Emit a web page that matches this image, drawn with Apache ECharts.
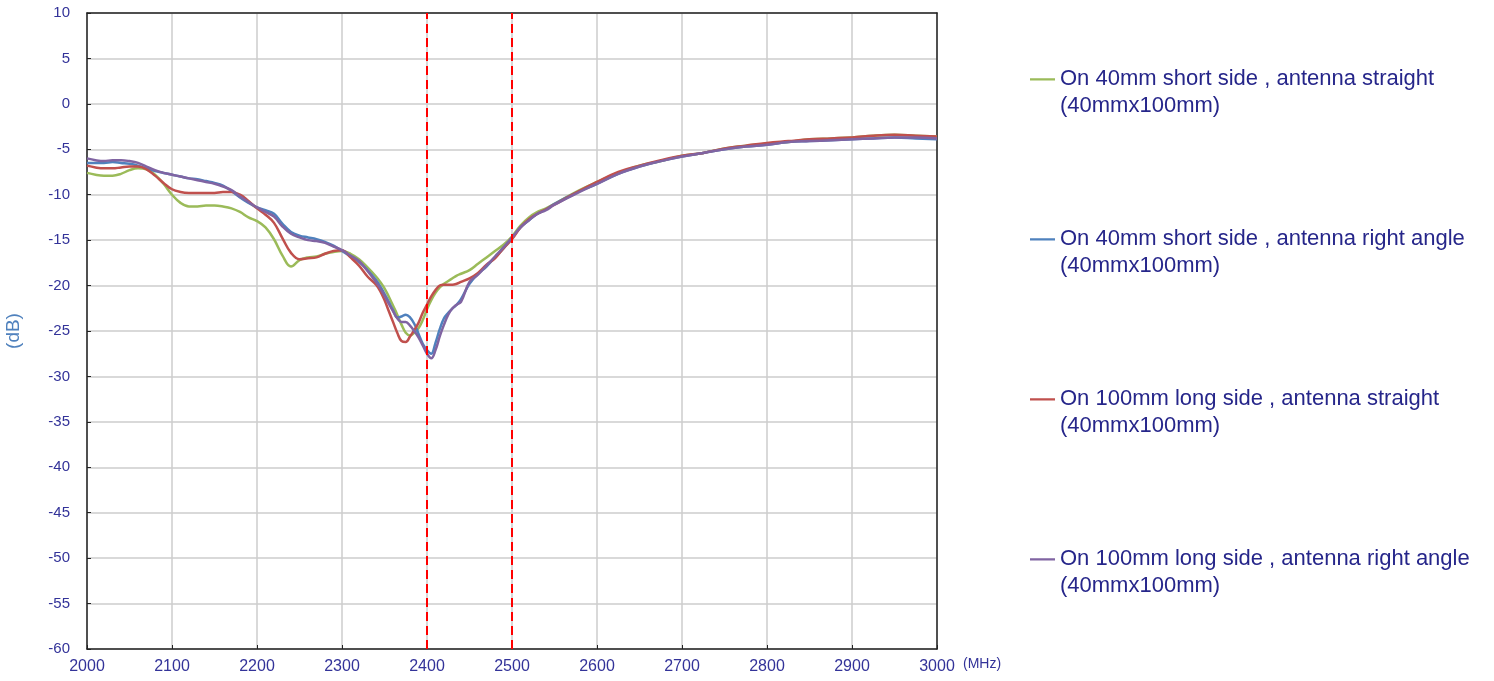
<!DOCTYPE html>
<html>
<head>
<meta charset="utf-8">
<script src="https://cdn.jsdelivr.net/npm/echarts@6/dist/echarts.min.js"></script>
<style>html,body{margin:0;padding:0;background:#fff}#c{width:1494px;height:681px}</style>
</head>
<body>
<div id="c"></div>
<script>
const freq = [2000,2010,2020,2030,2040,2050,2060,2070,2080,2090,2100,2110,2120,2130,2140,2150,2160,2170,2180,2190,2200,2210,2220,2230,2240,2250,2260,2270,2280,2290,2300,2310,2320,2330,2340,
2345,2350,2355,2360,2365,2370,2375,2380,2385,2390,2395,2400,2405,2410,2415,2420,2425,2430,2435,2440,
2450,2460,2470,2480,2490,2500,2510,2520,2530,2540,2550,
2575,2600,2625,2650,2675,2700,2725,2750,2775,2800,2825,2850,2875,2900,2925,2950,2975,3000];

const shortStraight = [-7.6,-7.8,-7.9,-7.9,-7.7,-7.3,-7.1,-7.2,-7.8,-8.8,-10.0,-10.9,-11.3,-11.3,-11.2,-11.2,-11.3,-11.5,-11.9,-12.5,-12.9,-13.6,-14.9,-16.7,-17.9,-17.2,-16.9,-16.8,-16.5,-16.3,-16.2,-16.5,-17.1,-18.0,-19.0,
-19.6,-20.3,-21.2,-22.2,-23.2,-24.3,-25.2,-25.5,-25.2,-24.7,-23.8,-22.6,-21.6,-20.8,-20.2,-19.8,-19.5,-19.2,-18.9,-18.7,
-18.3,-17.6,-16.9,-16.2,-15.5,-14.6,-13.4,-12.5,-11.9,-11.5,-11.0,
-9.7,-8.6,-7.6,-6.8,-6.3,-5.7,-5.4,-4.9,-4.6,-4.4,-4.2,-3.9,-3.8,-3.7,-3.5,-3.4,-3.5,-3.6];

const shortRight = [-6.5,-6.5,-6.5,-6.4,-6.5,-6.6,-6.8,-7.1,-7.4,-7.6,-7.8,-8.0,-8.2,-8.3,-8.5,-8.7,-9.0,-9.6,-10.3,-10.9,-11.4,-11.7,-12.1,-13.2,-14.1,-14.5,-14.7,-14.9,-15.2,-15.6,-16.2,-16.8,-17.4,-18.3,-19.4,
-20.1,-20.9,-21.8,-22.7,-23.5,-23.4,-23.2,-23.5,-24.2,-25.3,-26.4,-27.1,-27.5,-26.3,-24.8,-23.6,-23.0,-22.5,-22.1,-21.5,
-19.8,-18.7,-17.9,-16.9,-15.9,-14.8,-13.6,-12.8,-12.1,-11.6,-11.0,
-9.8,-8.8,-7.7,-6.9,-6.3,-5.8,-5.4,-5.0,-4.7,-4.5,-4.2,-4.1,-4.0,-3.9,-3.8,-3.7,-3.8,-3.9];

const longStraight = [-6.8,-7.0,-7.1,-7.1,-7.0,-6.9,-6.9,-7.2,-7.9,-8.7,-9.4,-9.7,-9.8,-9.8,-9.8,-9.8,-9.7,-9.7,-10.0,-10.7,-11.5,-12.2,-13.1,-14.8,-16.4,-17.1,-17.0,-16.9,-16.5,-16.2,-16.1,-16.9,-17.8,-19.0,-19.9,
-20.6,-21.6,-22.8,-24.0,-25.2,-26.1,-26.2,-25.6,-24.9,-24.1,-23.0,-22.1,-21.2,-20.5,-20.0,-19.9,-19.9,-19.9,-19.8,-19.6,
-19.2,-18.6,-17.7,-17.0,-15.9,-14.9,-13.6,-12.7,-12.1,-11.6,-11.1,
-9.8,-8.6,-7.5,-6.8,-6.2,-5.7,-5.4,-4.9,-4.6,-4.3,-4.1,-3.9,-3.8,-3.7,-3.5,-3.4,-3.5,-3.6];

const longRight = [-6.0,-6.2,-6.3,-6.2,-6.2,-6.3,-6.5,-6.9,-7.3,-7.6,-7.8,-8.0,-8.2,-8.4,-8.6,-8.8,-9.1,-9.5,-10.2,-10.8,-11.4,-11.9,-12.4,-13.5,-14.3,-14.7,-15.0,-15.1,-15.3,-15.7,-16.1,-16.7,-17.3,-18.4,-19.6,
-20.3,-21.1,-22.0,-22.8,-23.6,-24.0,-24.0,-24.4,-25.0,-25.7,-26.6,-27.5,-28.0,-27.1,-25.6,-24.3,-23.2,-22.5,-22.1,-21.8,
-19.6,-18.8,-17.8,-16.8,-15.8,-14.7,-13.6,-12.8,-12.1,-11.7,-11.1,
-9.9,-8.8,-7.7,-6.9,-6.3,-5.8,-5.4,-5.0,-4.7,-4.5,-4.2,-4.1,-4.0,-3.9,-3.8,-3.7,-3.7,-3.8];

const seriesNames = [
  'On 40mm short side , antenna straight\n(40mmx100mm)',
  'On 40mm short side , antenna right angle\n(40mmx100mm)',
  'On 100mm long side , antenna straight\n(40mmx100mm)',
  'On 100mm long side , antenna right angle\n(40mmx100mm)'
];
const seriesValues = [shortStraight, shortRight, longStraight, longRight];
const seriesColors = ['#9bbb59', '#4f81bd', '#c0504d', '#8064a2'];
const markerFreqs = [2400, 2500];

const series = seriesNames.map((name, i) => ({
  name: name,
  type: 'line',
  smooth: 0.4,
  symbol: 'none',
  lineStyle: { width: 2.5, color: seriesColors[i] },
  itemStyle: { color: seriesColors[i] },
  data: freq.map((f, k) => [f, seriesValues[i][k]])
}));
series.push({
  type: 'line',
  data: [],
  silent: true,
  markLine: {
    symbol: 'none',
    silent: true,
    label: { show: false },
    lineStyle: { color: '#ff0000', type: [9, 5], width: 2 },
    data: markerFreqs.map(f => ({ xAxis: f }))
  }
});

const labelFont = 'Liberation Sans';
const chart = echarts.init(document.getElementById('c'));
chart.setOption({
  animation: false,
  backgroundColor: '#ffffff',
  grid: { left: 87, right: 557, top: 13, bottom: 32, containLabel: false, outerBoundsMode: 'none' },
  xAxis: [{
    type: 'value', min: 2000, max: 3000, interval: 100,
    name: '(MHz)', nameLocation: 'end', nameGap: 26,
    nameTextStyle: { color: '#333399', fontSize: 14, fontFamily: labelFont, verticalAlign: 'top', padding: [8, 0, 0, 0] },
    axisLine: { show: true, onZero: false, lineStyle: { color: '#222', width: 1.5 } },
    axisTick: { show: true, inside: true, length: 4, lineStyle: { color: '#222' } },
    axisLabel: { color: '#333399', fontSize: 16, fontFamily: labelFont, margin: 10, formatter: v => String(v) },
    splitLine: { show: true, lineStyle: { color: '#cccccc', width: 1.5 } }
  }, {
    type: 'value', position: 'top', min: 2000, max: 3000,
    axisLine: { show: true, onZero: false, lineStyle: { color: '#222', width: 1.5 } },
    axisTick: { show: false }, axisLabel: { show: false }, splitLine: { show: false }
  }],
  yAxis: [{
    type: 'value', min: -60, max: 10, interval: 5,
    name: '(dB)', nameLocation: 'middle', nameGap: 64,
    nameTextStyle: { color: '#4f81bd', fontSize: 19, fontFamily: labelFont },
    axisLine: { show: true, onZero: false, lineStyle: { color: '#222', width: 1.5 } },
    axisTick: { show: true, inside: true, length: 4, lineStyle: { color: '#222' } },
    axisLabel: { color: '#333399', fontSize: 15, fontFamily: labelFont, margin: 17 },
    splitLine: { show: true, lineStyle: { color: '#cccccc', width: 1.5 } }
  }, {
    type: 'value', position: 'right', min: -60, max: 10,
    axisLine: { show: true, onZero: false, lineStyle: { color: '#222', width: 1.5 } },
    axisTick: { show: false }, axisLabel: { show: false }, splitLine: { show: false }
  }],
  legend: {
    orient: 'vertical',
    left: 1025,
    top: 60,
    itemWidth: 25,
    itemHeight: 33,
    itemGap: 106,
    icon: 'path://M0,0H30V2.6H0Z M0,33H0.01V33.01H0Z',
    data: seriesNames,
    textStyle: { color: '#26268a', fontSize: 22, fontFamily: labelFont, lineHeight: 27 }
  },
  series: series
});
</script>
</body>
</html>
